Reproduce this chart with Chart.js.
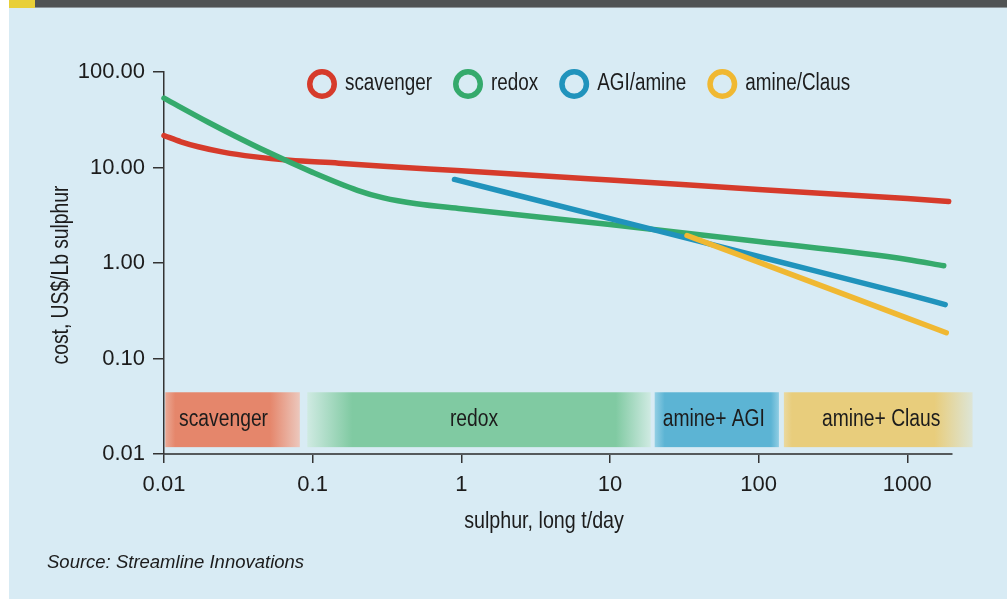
<!DOCTYPE html>
<html>
<head>
<meta charset="utf-8">
<script src="https://cdn.jsdelivr.net/npm/chart.js@4.4.1/dist/chart.umd.min.js"></script>
<style>
  html, body { margin: 0; padding: 0; background: #ffffff; }
  #frame { position: relative; width: 1007px; height: 599px; overflow: hidden; background: #ffffff; }
  #panel { position: absolute; left: 9px; top: 8px; right: 0; bottom: 0; background: #d8ebf4; }
  #bar { position: absolute; left: 35px; top: 0; right: 0; height: 7px; background: #505354; border-bottom: 1px solid #8d959a; }
  #tab { position: absolute; left: 9px; top: 0; width: 26px; height: 8px; background: #e8cf38; }
  #chart { position: absolute; left: 0; top: 0; }
</style>
</head>
<body>
<div id="frame">
  <div id="panel"></div>
  <div id="bar"></div>
  <div id="tab"></div>
  <canvas id="chart" width="1007" height="599"></canvas>
</div>
<script>
// Axis ticks (log-log)
const xTickValues = [0.01, 0.1, 1, 10, 100, 1000];
const xTickLabels = ['0.01', '0.1', '1', '10', '100', '1000'];
const yTickValues = [0.01, 0.1, 1, 10, 100];
const yTickLabels = ['0.01', '0.10', '1.00', '10.00', '100.00'];

const xTitle = 'sulphur, long t/day';
const yTitle = 'cost, US$/Lb sulphur';
const sourceNote = 'Source: Streamline Innovations';

// Cost curves: sulphur (long t/day) vs cost (US$/Lb sulphur)
const scavengerX = [0.01, 0.013, 0.017, 0.025, 0.04, 0.07, 0.15, 0.3, 1, 10, 100, 1000, 1900];
const scavengerY = [21.6, 18.6, 16.5, 14.5, 13.0, 11.9, 11.1, 10.3, 9.23, 7.39, 5.89, 4.73, 4.40];

const redoxX = [0.01, 0.02, 0.03, 0.05, 0.1, 0.2, 0.3, 0.5, 1, 10, 100, 1000, 1760];
const redoxY = [53.2, 29.6, 21.4, 14.5, 8.89, 5.77, 4.80, 4.17, 3.70, 2.53, 1.68, 1.09, 0.935];

const agiX = [0.9, 10, 100, 1000, 1800];
const agiY = [7.5, 2.92, 1.17, 0.47, 0.367];

const clausX = [33, 100, 1000, 1830];
const clausY = [1.94, 1.02, 0.265, 0.186];

// Process ranges shown as bands along the bottom
const bandNames = ['scavenger', 'redox', 'amine+ AGI', 'amine+ Claus'];
const bandFrom = [0.0102, 0.092, 20, 148];
const bandTo = [0.082, 18.8, 137, 2750];
const bandTop = 0.0443;
const bandBottom = 0.0118;

const baseFont = '"Liberation Sans", Arial, sans-serif';
const narrow = 0.82;   // horizontal squeeze for a condensed look
const ink = '#1c1c1c';

const bandStyle = [
  { fill: '#e5866b', edgeL: '#eaa995', edgeR: '#ecc8bd', fadeL: 10, fadeR: 30, dx: -9 },
  { fill: '#80caa2', edgeL: '#cfeae2', edgeR: '#cfeae2', fadeL: 45, fadeR: 35, dx: -5 },
  { fill: '#5cb4d4', edgeL: '#93cfe4', edgeR: '#8fcde3', fadeL: 10, fadeR: 8, dx: -3 },
  { fill: '#e8cd7c', edgeL: '#ead9a0', edgeR: '#dde5d6', fadeL: 8, fadeR: 38, dx: 3 }
];

function pairs(xs, ys) { return xs.map((x, i) => ({ x: x, y: ys[i] })); }

function series(label, color, xs, ys, order) {
  return {
    label: label,
    data: pairs(xs, ys),
    borderColor: color,
    backgroundColor: color,
    borderWidth: 5.5,
    borderCapStyle: 'round',
    borderJoinStyle: 'round',
    cubicInterpolationMode: 'monotone',
    pointRadius: 0,
    pointHoverRadius: 0,
    fill: false,
    clip: false,
    order: order
  };
}

// condensed text helper
function condText(ctx, text, x, y, size, align, rot) {
  ctx.save();
  ctx.translate(x, y);
  if (rot) ctx.rotate(rot);
  ctx.scale(narrow, 1);
  ctx.font = size + 'px ' + baseFont;
  ctx.textAlign = align;
  ctx.textBaseline = 'middle';
  ctx.fillStyle = ink;
  ctx.fillText(text, 0, 0);
  const w = ctx.measureText(text).width * narrow;
  ctx.restore();
  return w;
}

const decor = {
  id: 'decor',
  beforeDatasetsDraw(chart) {
    const { ctx, scales: { x, y } } = chart;
    const top = y.getPixelForValue(bandTop);
    const bottom = y.getPixelForValue(bandBottom);
    ctx.save();
    bandNames.forEach((name, i) => {
      const x0 = x.getPixelForValue(bandFrom[i]);
      const x1 = x.getPixelForValue(bandTo[i]);
      const w = x1 - x0;
      const st = bandStyle[i];
      const g = ctx.createLinearGradient(x0, 0, x1, 0);
      g.addColorStop(0, st.edgeL);
      g.addColorStop(Math.min(st.fadeL / w, 0.45), st.fill);
      g.addColorStop(1 - Math.min(st.fadeR / w, 0.45), st.fill);
      g.addColorStop(1, st.edgeR);
      ctx.fillStyle = g;
      ctx.fillRect(x0, top, w, bottom - top);
      condText(ctx, name, (x0 + x1) / 2 + st.dx, (top + bottom) / 2, 23.5, 'center');
    });
    ctx.restore();
  },
  afterDraw(chart) {
    const { ctx } = chart;
    // legend with ring markers
    let cx = 307;
    const cy = 84;
    chart.data.datasets.forEach(ds => {
      ctx.save();
      ctx.beginPath();
      ctx.arc(cx + 15, cy, 12.25, 0, Math.PI * 2);
      ctx.strokeStyle = ds.borderColor;
      ctx.lineWidth = 5.5;
      ctx.stroke();
      ctx.restore();
      const tx = cx + 38;
      const w = condText(ctx, ds.label, tx, cy, 23, 'left');
      cx = tx + w + 21;
    });
    // axis titles
    condText(ctx, xTitle, 544, 521, 24, 'center');
    condText(ctx, yTitle, 62, 275, 23.5, 'center', -Math.PI / 2);
    // source note
    ctx.save();
    ctx.font = 'italic 18.5px ' + baseFont;
    ctx.fillStyle = ink;
    ctx.textAlign = 'left';
    ctx.textBaseline = 'alphabetic';
    ctx.fillText(sourceNote, 47, 568);
    ctx.restore();
  }
};

new Chart(document.getElementById('chart'), {
  type: 'line',
  data: {
    datasets: [
      series('scavenger', '#d63b2b', scavengerX, scavengerY, 3),
      series('redox', '#35aa6c', redoxX, redoxY, 2),
      series('AGI/amine', '#2093bc', agiX, agiY, 1),
      series('amine/Claus', '#f0b832', clausX, clausY, 0)
    ]
  },
  options: {
    responsive: false,
    animation: false,
    events: [],
    layout: { padding: { top: 72, right: 55, bottom: 64, left: 0 } },
    plugins: { legend: { display: false }, tooltip: { enabled: false }, title: { display: false } },
    scales: {
      x: {
        type: 'logarithmic',
        min: 0.01,
        max: 2000,
        afterBuildTicks: s => { s.ticks = xTickValues.map(v => ({ value: v })); },
        afterFit: s => { s.height = 81; },
        ticks: {
          autoSkip: false,
          maxRotation: 0,
          padding: 9,
          color: ink,
          font: { family: baseFont, size: 22 },
          callback: (v, i) => xTickLabels[i]
        },
        grid: { drawOnChartArea: false, drawTicks: true, tickLength: 9, color: '#333', lineWidth: 1.5 },
        border: { display: true, color: '#555a5c', width: 2 }
      },
      y: {
        type: 'logarithmic',
        min: 0.01,
        max: 100,
        afterBuildTicks: s => { s.ticks = yTickValues.map(v => ({ value: v })); },
        afterFit: s => { s.width = 164; },
        ticks: {
          autoSkip: false,
          padding: 8,
          color: ink,
          font: { family: baseFont, size: 22 },
          callback: (v, i) => yTickLabels[i]
        },
        grid: { drawOnChartArea: false, drawTicks: true, tickLength: 11, color: '#333', lineWidth: 1.5 },
        border: { display: true, color: '#333', width: 1.5 }
      }
    }
  },
  plugins: [decor]
});
</script>
</body>
</html>
